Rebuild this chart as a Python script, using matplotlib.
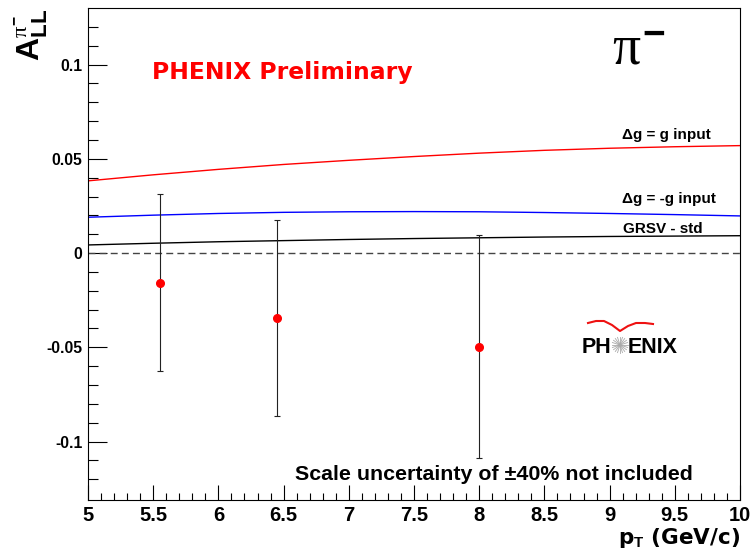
import matplotlib
matplotlib.use('Agg')
import matplotlib.pyplot as plt
from matplotlib.lines import Line2D
import numpy as np

# measured asymmetry
pt = [5.55, 6.45, 8.0]
all_val = [-0.0158, -0.0347, -0.0496]
all_err = [0.047, 0.052, 0.059]

# model curves
pt_curve = [5.0, 5.5, 6.0, 6.5, 7.0, 7.5, 8.0, 8.5, 9.0, 9.5, 10.0]
dg_plus = [0.0383, 0.0415, 0.0444, 0.0470, 0.0492, 0.0512, 0.0530, 0.0545, 0.0556, 0.0564, 0.0570]
dg_minus = [0.0190, 0.0201, 0.0210, 0.0216, 0.0219, 0.0220, 0.0219, 0.0215, 0.0210, 0.0204, 0.0197]
grsv_std = [0.0043, 0.0052, 0.0060, 0.0066, 0.0072, 0.0077, 0.0081, 0.0085, 0.0088, 0.0090, 0.0092]

plt.rcParams['mathtext.fontset'] = 'custom'
plt.rcParams['mathtext.rm'] = 'Liberation Sans:bold'
plt.rcParams['mathtext.bf'] = 'Liberation Sans:bold'
plt.rcParams['mathtext.it'] = 'Liberation Serif'

W, H = 753, 553
fig = plt.figure(figsize=(W / 100, H / 100), dpi=100)
ax = fig.add_axes([88 / W, 1 - 500 / H, 652 / W, 492 / H])


def px(x, y):
    # pixel position -> figure fraction
    return x / W, 1 - y / H


ax.plot(pt_curve, dg_plus, color='#ff0000', lw=1.0)
ax.plot(pt_curve, dg_minus, color='#0000ff', lw=1.0)
ax.plot(pt_curve, grsv_std, color='black', lw=1.0)
ax.axhline(0, color='#444444', lw=1.0, ls=(0, (5, 3)))

ax.errorbar(pt, all_val, yerr=all_err, fmt='o', color='red', ecolor='#222222',
            elinewidth=0.8, capsize=2.5, capthick=0.8, markersize=5.5)

ax.set_xlim(5, 10)
ax.set_ylim(-0.131, 0.13)
ax.set_xticks(np.arange(5, 10.01, 0.5))
ax.set_xticks(np.arange(5, 10.01, 0.1), minor=True)
ax.set_yticks([-0.1, -0.05, 0, 0.05, 0.1])
ax.set_yticks(np.arange(-0.12, 0.121, 0.01), minor=True)
ax.set_xticklabels(['5', '5.5', '6', '6.5', '7', '7.5', '8', '8.5', '9', '9.5', '10'])
ax.set_yticklabels(['-0.1', '-0.05', '0', '0.05', '0.1'])

ax.tick_params(axis='x', which='major', direction='in', length=10.6, width=0.8, pad=4,
               labelsize=14.5)
ax.tick_params(axis='x', which='minor', direction='in', length=5.3, width=0.8)
ax.tick_params(axis='y', which='major', direction='in', length=14, width=0.8, pad=4,
               labelsize=11.3)
ax.tick_params(axis='y', which='minor', direction='in', length=7, width=0.8)
for lab in ax.get_xticklabels() + ax.get_yticklabels():
    lab.set_fontfamily('Liberation Sans')
    lab.set_fontweight('bold')
for s in ax.spines.values():
    s.set_linewidth(0.8)

# curve labels
lab_kw = dict(fontfamily='Liberation Sans', fontweight='bold', fontsize=11, va='baseline')
ax.text(9.095, 0.0606, 'Δg = g input', **lab_kw)
ax.text(9.095, 0.0266, 'Δg = -g input', **lab_kw)
ax.text(9.10, 0.0106, 'GRSV - std', **lab_kw)

ax.text(5.49, 0.0924, 'PHENIX Preliminary', color='#ff0000', fontfamily='DejaVu Sans',
        fontweight='bold', fontsize=16.9, va='baseline')
ax.text(6.587, -0.1205, 'Scale uncertainty of ±40% not included', fontfamily='Liberation Sans',
        fontweight='bold', fontsize=15.4, va='baseline')

# big pi- label
ax.text(9.02, 0.1, r'$\pi^{-}$', fontsize=40, va='baseline')

# axis titles
fig.text(*px(740, 544), r'p$_{\mathbf{T}}$ (GeV/c)', fontfamily='DejaVu Sans', fontweight='bold',
         fontsize=15.5, ha='right', va='baseline')
fig.text(*px(31, 9), r'$\mathbf{A}_{\mathbf{LL}}^{\pi^{-}}$', fontsize=23, rotation=90,
         ha='center', va='top')

# PHENIX logo
logo_kw = dict(fontfamily='Liberation Sans', fontweight='bold', fontsize=15.5, va='baseline')
fig.text(*px(582, 353), 'PH', **logo_kw)
fig.text(*px(628, 353), 'ENIX', **logo_kw)
cx, cy = 620, 345
for a in np.linspace(0, np.pi, 10, endpoint=False):
    dx, dy = 8 * np.cos(a), 8 * np.sin(a)
    x0, y0 = px(cx - dx, cy - dy)
    x1, y1 = px(cx + dx, cy + dy)
    fig.add_artist(Line2D([x0, x1], [y0, y1], transform=fig.transFigure, color='#aaaaaa', lw=0.6))
wing_x = [588, 596, 604, 612, 620, 628, 636, 645, 653]
wing_y = [323, 321, 321, 325, 331, 326, 323, 323, 324]
wx, wy = zip(*[px(a, b) for a, b in zip(wing_x, wing_y)])
fig.add_artist(Line2D(wx, wy, transform=fig.transFigure, color='#ee1111', lw=1.5))

fig.savefig('out.png', dpi=100)
